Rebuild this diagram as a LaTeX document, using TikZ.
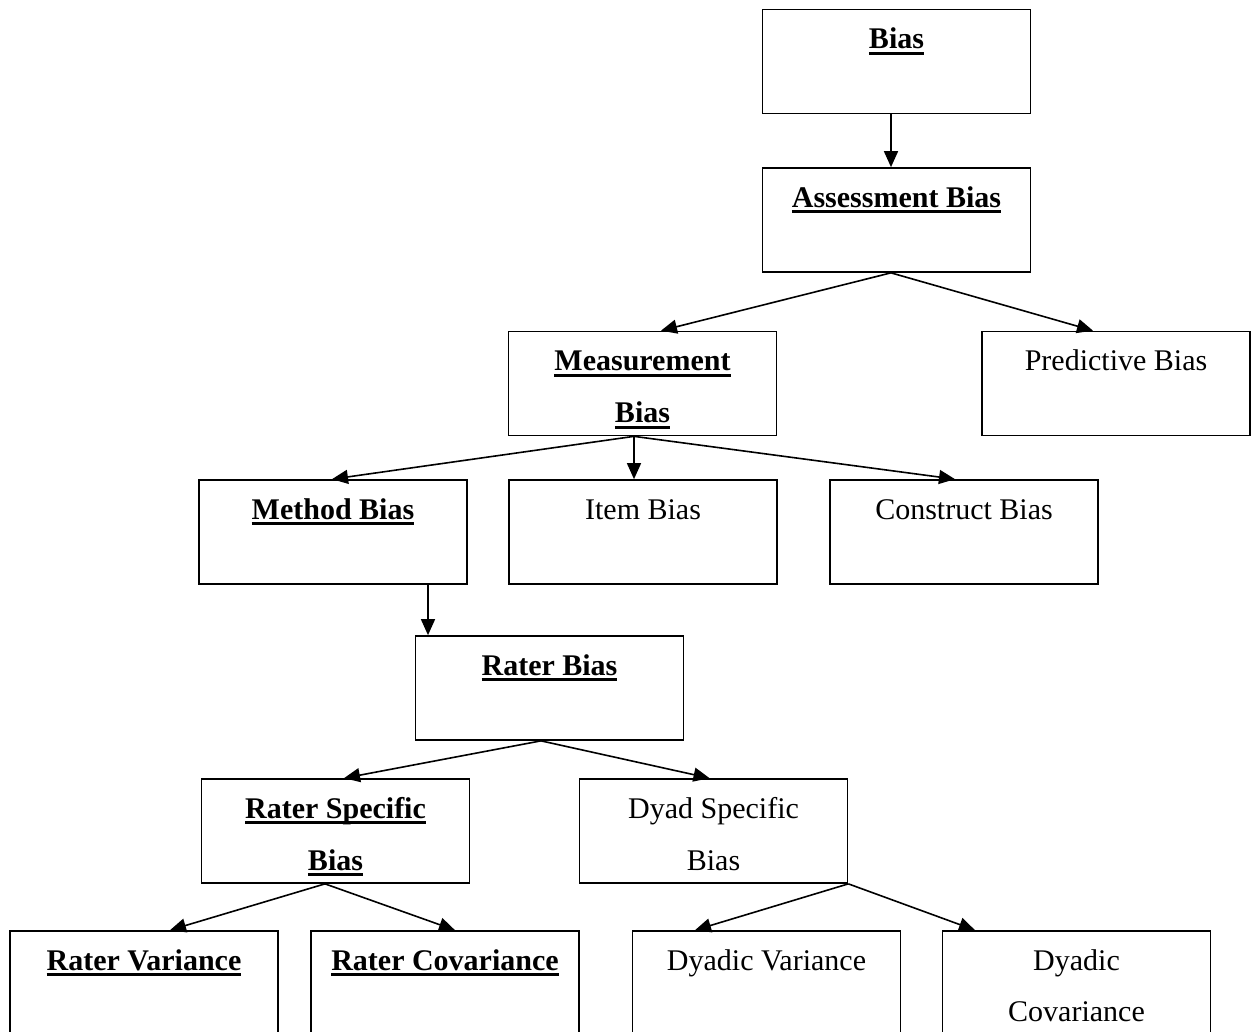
\documentclass[tikz,border=0pt]{standalone}
\usepackage{fontspec}
\setmainfont{Liberation Serif}
\usetikzlibrary{arrows.meta,calc}
\newcommand\myul[1]{\setbox0\hbox{#1}\rlap{\rule[-6pt]{\wd0}{3pt}}\box0}
\begin{document}
\begin{tikzpicture}[x=1pt,y=-1pt,
  box/.style={draw, line width=1.7pt, minimum width=268pt, minimum height=104pt, inner sep=0pt},
  txt/.style={anchor=base, inner sep=0pt, font=\fontsize{30}{36}\selectfont},
  btxt/.style={txt, font=\fontsize{30}{36}\selectfont\bfseries},
  arr/.style={line width=1.6pt, -{Triangle[length=16pt,width=14pt]}}]
\useasboundingbox (0,0) rectangle (1251,1032);
% boxes
\node[box] (bias) at (896.5,61.5) {};
\node[box] (assess) at (896.5,220) {};
\node[box] (meas) at (642.5,383.5) {};
\node[box] (pred) at (1116,383.5) {};
\node[box] (method) at (333,532) {};
\node[box] (item) at (643,532) {};
\node[box] (construct) at (964,532) {};
\node[box] (rater) at (549.5,688) {};
\node[box] (rspec) at (335.5,831) {};
\node[box] (dyad) at (713.5,831) {};
\node[box] (rvar) at (144,983) {};
\node[box] (rcov) at (445,983) {};
\node[box] (dvar) at (766.5,983) {};
\node[box] (dcov) at (1076.5,983) {};
% texts
\node[btxt] (bias-t) at ($(bias.north)+(0,40)$) {\myul{Bias}};
\node[btxt] (assess-t) at ($(assess.north)+(0,40)$) {\myul{Assessment Bias}};
\node[btxt] (meas-t1) at ($(meas.north)+(0,40)$) {\myul{Measurement}};
\node[btxt] (meas-t2) at ($(meas.north)+(0,92)$) {\myul{Bias}};
\node[txt] (pred-t) at ($(pred.north)+(0,40)$) {Predictive Bias};
\node[btxt] (method-t) at ($(method.north)+(0,40)$) {\myul{Method Bias}};
\node[txt] (item-t) at ($(item.north)+(0,40)$) {Item Bias};
\node[txt] (construct-t) at ($(construct.north)+(0,40)$) {Construct Bias};
\node[btxt] (rater-t) at ($(rater.north)+(0,40)$) {\myul{Rater Bias}};
\node[btxt] (rspec-t1) at ($(rspec.north)+(0,40)$) {\myul{Rater Specific}};
\node[btxt] (rspec-t2) at ($(rspec.north)+(0,92)$) {\myul{Bias}};
\node[txt] (dyad-t1) at ($(dyad.north)+(0,40)$) {Dyad Specific};
\node[txt] (dyad-t2) at ($(dyad.north)+(0,92)$) {Bias};
\node[btxt] (rvar-t) at ($(rvar.north)+(0,40)$) {\myul{Rater Variance}};
\node[btxt] (rcov-t) at ($(rcov.north)+(0,40)$) {\myul{Rater Covariance}};
\node[txt] (dvar-t) at ($(dvar.north)+(0,40)$) {Dyadic Variance};
\node[txt] (dcov-t1) at ($(dcov.north)+(0,40)$) {Dyadic};
\node[txt] (dcov-t2) at ($(dcov.north)+(0,91)$) {Covariance};
% connectors
\draw[arr] ([xshift=-5.5pt]bias.south) -- ([xshift=-5.5pt]assess.north);
\draw[arr] ([xshift=-5.5pt]assess.south) -- ([xshift=18.5pt]meas.north);
\draw[arr] ([xshift=-5.5pt]assess.south) -- ([xshift=-23pt]pred.north);
\draw[arr] ([xshift=-8.5pt]meas.south) -- ([xshift=-1pt]method.north);
\draw[arr] ([xshift=-8.5pt]meas.south) -- ([xshift=-9pt]item.north);
\draw[arr] ([xshift=-8.5pt]meas.south) -- ([xshift=-9pt]construct.north);
\draw[arr] ([xshift=95pt]method.south) -- ([xshift=95pt]method.south |- rater.north);
\draw[arr] ([xshift=-8.5pt]rater.south) -- ([xshift=8.5pt]rspec.north);
\draw[arr] ([xshift=-8.5pt]rater.south) -- ([xshift=-4pt]dyad.north);
\draw[arr] ([xshift=-10.5pt]rspec.south) -- ([xshift=26pt]rvar.north);
\draw[arr] ([xshift=-10.5pt]rspec.south) -- ([xshift=10pt]rcov.north);
\draw[arr] (dyad.south east) -- ([xshift=-71.5pt]dvar.north);
\draw[arr] (dyad.south east) -- ([xshift=-101.5pt]dcov.north);
\end{tikzpicture}
\end{document}
